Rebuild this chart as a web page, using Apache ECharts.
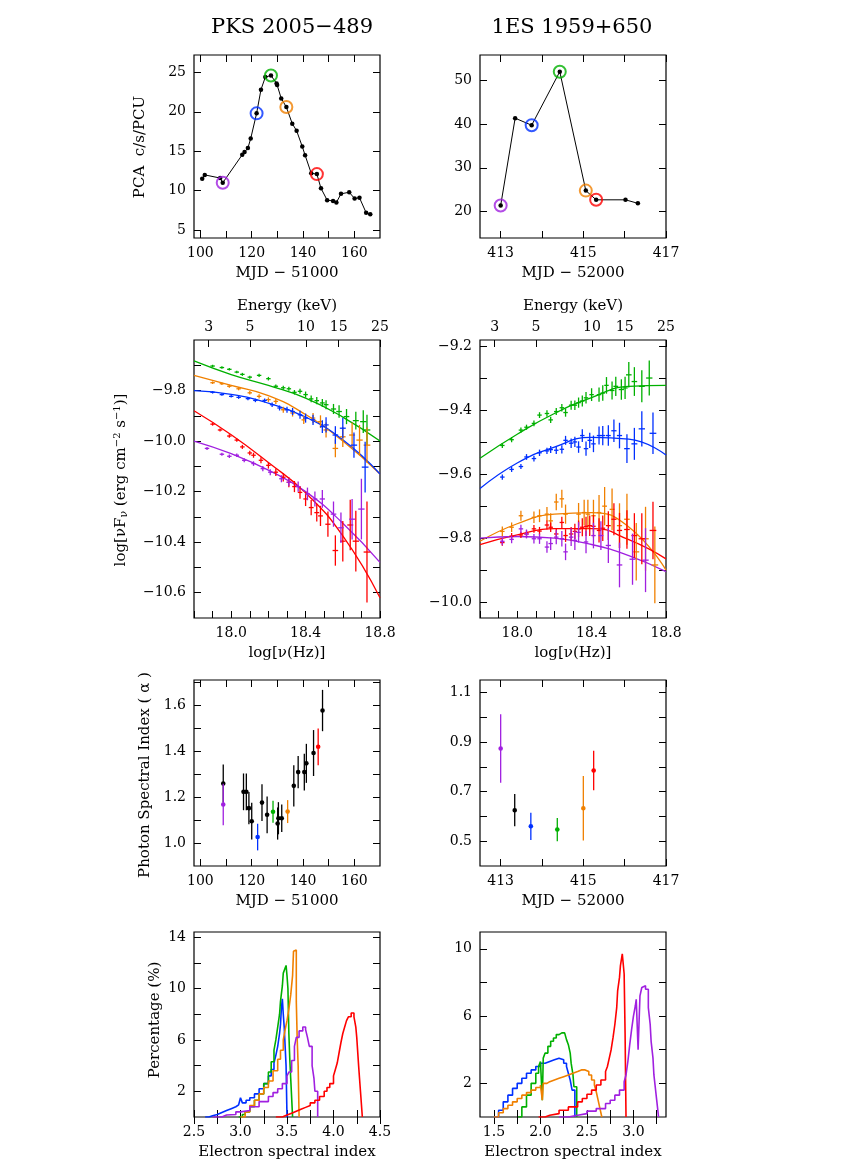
<!DOCTYPE html>
<html><head><meta charset="utf-8">
<script src="https://cdn.jsdelivr.net/npm/echarts@6/dist/echarts.min.js"></script>
<style>html,body{margin:0;background:#fff}#c{width:859px;height:1172px}</style>
</head><body><div id="c"></div>
<script>
// ---------- DATA ----------
const titles = ['PKS 2005\u2212489', '1ES 1959+650'];
const colors = {purple:'#a020e0', blue:'#0030ff', green:'#00b000', orange:'#f08000', red:'#ff0000', black:'#000'};

// Row 1 light curves [MJD offset, count rate]
const lcLeft = [[100.7,11.5],[101.7,12.0],[107.7,11.6],[108.7,11.0],[116.3,14.55],[117.2,14.9],[118.5,15.4],[119.6,16.6],[121.9,19.8],[123.6,22.8],[125.3,24.4],[127.5,24.6],[129.7,23.6],[129.9,23.4],[131.5,21.7],[133.5,20.6],[135.8,18.5],[137.5,17.6],[139.7,15.6],[140.8,14.5],[143.2,12.2],[145.4,12.1],[147.0,10.3],[149.4,8.8],[151.7,8.7],[153.0,8.5],[154.8,9.6],[158.0,9.8],[160.1,9.0],[162.0,9.1],[164.6,7.2],[166.2,7.0]];
const lcLeftMarks = {purple:[108.7,11.0], blue:[121.9,19.8], green:[127.5,24.6], orange:[133.5,20.6], red:[145.4,12.1]};
const lcRight = [[413.0,21.4],[413.35,41.3],[413.75,39.7],[414.43,51.9],[415.06,24.8],[415.31,22.7],[416.02,22.7],[416.32,21.9]];
const lcRightMarks = {purple:[413.0,21.4], blue:[413.75,39.7], green:[414.43,51.9], orange:[415.06,24.8], red:[415.31,22.7]};

// Row 2 spectra: points [log nu, log nuFnu, xerr, yerr]
const specL = {
 green:[[17.90,-9.703,.012,.005],[17.95,-9.709,.012,.005],[17.99,-9.716,.012,.005],[18.03,-9.727,.012,.005],[18.06,-9.736,.012,.006],[18.10,-9.747,.012,.006],[18.15,-9.740,.012,.006],[18.20,-9.753,.012,.007],[18.24,-9.783,.012,.007],[18.28,-9.789,.012,.008],[18.31,-9.793,.012,.008],[18.34,-9.807,.012,.009],[18.37,-9.803,.012,.010],[18.40,-9.816,.012,.012],[18.43,-9.833,.012,.013],[18.46,-9.840,.012,.014],[18.49,-9.849,.013,.016],[18.51,-9.856,.013,.018],[18.55,-9.873,.014,.02],[18.58,-9.883,.015,.025],[18.62,-9.903,.015,.03],[18.67,-9.919,.016,.035],[18.71,-9.923,.017,.045],[18.73,-9.956,.018,.06]],
 orange:[[17.90,-9.769,.012,.005],[17.95,-9.773,.012,.005],[17.99,-9.783,.012,.006],[18.04,-9.793,.012,.006],[18.10,-9.809,.012,.007],[18.15,-9.823,.012,.008],[18.20,-9.836,.012,.009],[18.24,-9.843,.012,.01],[18.28,-9.876,.012,.012],[18.33,-9.889,.012,.014],[18.39,-9.916,.012,.016],[18.44,-9.909,.012,.02],[18.48,-9.923,.013,.025],[18.51,-9.956,.014,.03],[18.56,-10.029,.015,.035],[18.60,-9.983,.015,.04],[18.65,-9.976,.016,.05],[18.69,-9.996,.017,.06],[18.73,-10.016,.018,.07]],
 blue:[[17.90,-9.807,.012,.005],[17.95,-9.816,.012,.005],[18.00,-9.823,.012,.005],[18.04,-9.827,.012,.006],[18.09,-9.832,.012,.006],[18.13,-9.839,.012,.007],[18.18,-9.839,.012,.008],[18.22,-9.856,.012,.009],[18.26,-9.869,.012,.01],[18.30,-9.876,.012,.012],[18.33,-9.883,.012,.014],[18.37,-9.896,.012,.016],[18.40,-9.909,.012,.018],[18.44,-9.916,.012,.02],[18.49,-9.943,.013,.025],[18.51,-9.936,.014,.03],[18.56,-9.976,.015,.035],[18.60,-9.949,.016,.04],[18.66,-10.016,.017,.05],[18.72,-10.103,.018,.1]],
 red:[[17.90,-9.933,.012,.006],[17.94,-9.956,.012,.006],[17.99,-9.980,.012,.007],[18.03,-9.996,.012,.007],[18.06,-10.023,.012,.008],[18.10,-10.047,.012,.009],[18.12,-10.056,.012,.01],[18.16,-10.076,.012,.012],[18.20,-10.096,.012,.013],[18.24,-10.123,.012,.015],[18.28,-10.143,.012,.017],[18.31,-10.163,.012,.02],[18.34,-10.180,.012,.022],[18.37,-10.203,.012,.025],[18.40,-10.229,.012,.028],[18.43,-10.263,.013,.03],[18.46,-10.283,.013,.035],[18.48,-10.296,.013,.04],[18.52,-10.329,.014,.05],[18.56,-10.433,.015,.06],[18.60,-10.396,.015,.08],[18.64,-10.332,.016,.1],[18.67,-10.396,.017,.12],[18.73,-10.439,.018,.2]],
 purple:[[17.87,-10.029,.012,.006],[17.95,-10.052,.012,.006],[17.99,-10.060,.012,.007],[18.03,-10.056,.012,.007],[18.07,-10.076,.012,.008],[18.12,-10.089,.012,.009],[18.17,-10.109,.012,.01],[18.21,-10.123,.012,.012],[18.27,-10.149,.012,.014],[18.31,-10.163,.012,.016],[18.36,-10.180,.012,.02],[18.41,-10.209,.013,.025],[18.45,-10.229,.013,.03],[18.49,-10.229,.014,.035],[18.55,-10.289,.015,.05],[18.59,-10.343,.015,.06],[18.65,-10.309,.016,.08],[18.70,-10.269,.017,.12]]
};
const specR = {
 green:[[17.92,-9.510,.012,.008],[17.97,-9.492,.012,.008],[18.02,-9.462,.012,.008],[18.05,-9.453,.012,.008],[18.09,-9.441,.012,.009],[18.12,-9.415,.012,.009],[18.16,-9.410,.012,.01],[18.18,-9.430,.012,.01],[18.21,-9.404,.012,.011],[18.24,-9.392,.012,.012],[18.26,-9.407,.012,.013],[18.29,-9.384,.012,.014],[18.31,-9.384,.012,.015],[18.33,-9.376,.012,.016],[18.35,-9.371,.012,.017],[18.37,-9.361,.012,.018],[18.40,-9.351,.012,.02],[18.44,-9.351,.012,.022],[18.46,-9.346,.012,.024],[18.48,-9.322,.012,.026],[18.51,-9.338,.013,.028],[18.53,-9.325,.013,.03],[18.56,-9.335,.014,.032],[18.58,-9.330,.014,.035],[18.60,-9.289,.015,.04],[18.63,-9.310,.015,.045],[18.67,-9.325,.016,.05],[18.71,-9.299,.017,.055]],
 blue:[[17.92,-9.609,.012,.008],[17.97,-9.585,.012,.008],[18.02,-9.576,.012,.008],[18.05,-9.546,.012,.009],[18.09,-9.551,.012,.009],[18.12,-9.533,.012,.01],[18.16,-9.527,.012,.01],[18.18,-9.523,.012,.011],[18.21,-9.525,.012,.012],[18.24,-9.522,.012,.013],[18.26,-9.494,.012,.014],[18.29,-9.503,.012,.015],[18.31,-9.499,.012,.016],[18.33,-9.515,.012,.018],[18.35,-9.479,.012,.02],[18.37,-9.520,.012,.022],[18.39,-9.494,.012,.024],[18.41,-9.505,.012,.026],[18.44,-9.479,.012,.028],[18.46,-9.479,.013,.03],[18.49,-9.479,.013,.032],[18.52,-9.464,.014,.035],[18.55,-9.479,.014,.04],[18.59,-9.520,.015,.045],[18.63,-9.505,.016,.05],[18.67,-9.458,.017,.055],[18.73,-9.472,.018,.065]],
 orange:[[17.92,-9.779,.012,.015],[17.97,-9.766,.012,.015],[18.02,-9.730,.012,.016],[18.09,-9.735,.012,.018],[18.12,-9.730,.012,.02],[18.16,-9.725,.012,.022],[18.18,-9.746,.012,.024],[18.21,-9.687,.012,.026],[18.24,-9.677,.012,.028],[18.26,-9.725,.012,.03],[18.33,-9.725,.012,.035],[18.36,-9.720,.012,.04],[18.38,-9.725,.012,.045],[18.41,-9.730,.012,.05],[18.44,-9.720,.012,.055],[18.47,-9.700,.013,.06],[18.51,-9.710,.013,.065],[18.55,-9.761,.014,.07],[18.59,-9.741,.015,.08],[18.64,-9.843,.016,.09],[18.69,-9.802,.017,.1],[18.74,-9.884,.018,.12]],
 red:[[17.92,-9.814,.012,.01],[17.97,-9.794,.012,.01],[18.02,-9.790,.012,.01],[18.05,-9.787,.012,.011],[18.09,-9.771,.012,.012],[18.12,-9.778,.012,.013],[18.16,-9.759,.012,.014],[18.18,-9.766,.012,.015],[18.21,-9.787,.012,.016],[18.24,-9.751,.012,.018],[18.26,-9.792,.012,.02],[18.29,-9.787,.012,.022],[18.31,-9.779,.012,.024],[18.33,-9.771,.012,.026],[18.35,-9.766,.012,.028],[18.37,-9.763,.012,.03],[18.39,-9.761,.012,.032],[18.41,-9.763,.012,.035],[18.44,-9.776,.012,.038],[18.46,-9.769,.013,.04],[18.49,-9.761,.013,.045],[18.52,-9.741,.014,.05],[18.55,-9.776,.014,.055],[18.59,-9.773,.015,.06],[18.63,-9.792,.016,.07],[18.67,-9.802,.017,.08],[18.73,-9.776,.018,.09]],
 purple:[[17.92,-9.810,.012,.012],[17.97,-9.804,.012,.012],[18.02,-9.771,.012,.013],[18.05,-9.787,.012,.014],[18.09,-9.802,.012,.015],[18.12,-9.802,.012,.016],[18.16,-9.828,.012,.018],[18.18,-9.817,.012,.02],[18.21,-9.797,.012,.022],[18.24,-9.802,.012,.024],[18.26,-9.843,.012,.026],[18.29,-9.797,.012,.028],[18.31,-9.807,.012,.03],[18.33,-9.782,.012,.032],[18.37,-9.812,.012,.035],[18.41,-9.792,.012,.04],[18.45,-9.792,.013,.045],[18.49,-9.823,.014,.055],[18.55,-9.884,.015,.07],[18.62,-9.866,.016,.08],[18.69,-9.869,.017,.1]]
};
// model curves [log nu, log nuFnu]
const curvL = {
 green:[[17.8,-9.683],[18.0,-9.737],[18.2,-9.78],[18.4,-9.83],[18.6,-9.905],[18.8,-10.0]],
 orange:[[17.8,-9.74],[18.0,-9.78],[18.2,-9.82],[18.4,-9.895],[18.6,-10.0],[18.8,-10.13]],
 blue:[[17.8,-9.80],[18.0,-9.815],[18.2,-9.85],[18.4,-9.905],[18.6,-9.995],[18.8,-10.13]],
 red:[[17.8,-9.88],[18.0,-9.975],[18.2,-10.085],[18.4,-10.205],[18.6,-10.375],[18.8,-10.62]],
 purple:[[17.8,-10.0],[18.0,-10.05],[18.2,-10.115],[18.4,-10.2],[18.6,-10.325],[18.8,-10.48]]
};
const curvR = {
 green:[[17.8,-9.55],[18.0,-9.475],[18.2,-9.41],[18.4,-9.36],[18.6,-9.325],[18.8,-9.322]],
 blue:[[17.8,-9.645],[18.0,-9.565],[18.2,-9.515],[18.4,-9.485],[18.6,-9.49],[18.8,-9.54]],
 orange:[[17.8,-9.81],[18.0,-9.755],[18.2,-9.725],[18.4,-9.72],[18.6,-9.765],[18.8,-9.9]],
 red:[[17.8,-9.82],[18.0,-9.79],[18.2,-9.77],[18.4,-9.77],[18.6,-9.805],[18.8,-9.865]],
 purple:[[17.8,-9.80],[18.0,-9.795],[18.2,-9.80],[18.4,-9.82],[18.6,-9.855],[18.8,-9.905]]
};
const energyTicks = [3,5,10,15,25];
const keVoffset = 17.402;

// Row 3 photon index [MJD offset, alpha, err, colour]
const alphaL = [[108.9,1.259,.083,'black'],[108.9,1.168,.09,'purple'],[116.8,1.223,.08,'black'],[117.9,1.223,.08,'black'],[118.9,1.152,.07,'black'],[120.0,1.095,.08,'black'],[122.3,1.026,.058,'blue'],[124.0,1.176,.08,'black'],[126.0,1.123,.08,'black'],[128.3,1.136,.048,'green'],[130.1,1.085,.07,'black'],[130.4,1.108,.07,'black'],[131.7,1.108,.06,'black'],[134.0,1.137,.05,'orange'],[136.4,1.249,.09,'black'],[138.1,1.309,.07,'black'],[140.5,1.309,.08,'black'],[141.3,1.347,.085,'black'],[144.1,1.392,.1,'black'],[145.9,1.419,.08,'red'],[147.6,1.577,.09,'black']];
const alphaR = [[413.0,0.874,.138,'purple'],[413.34,0.625,.065,'black'],[413.73,0.56,.055,'blue'],[414.37,0.547,.047,'green'],[415.0,0.633,.13,'orange'],[415.25,0.785,.08,'red']];

// Row 4 electron index distributions [index, percent]
const histL = {
 blue:[[2.62,0],[2.66,0.1],[2.7,0.2],[2.75,0.35],[2.8,0.5],[2.85,0.65],[2.9,0.8],[2.95,0.95],[2.98,1.1],[3.0,1.5],[3.02,1.1],[3.06,1.3],[3.1,1.5],[3.15,1.8],[3.2,2.2],[3.25,2.6],[3.3,3.2],[3.33,3.7],[3.36,4.2],[3.38,4.8],[3.4,5.5],[3.42,6.5],[3.43,7.2],[3.44,8.5],[3.45,9.2],[3.46,8.0],[3.47,7.0],[3.48,5.5],[3.49,4.0],[3.5,0]],
 green:[[2.98,0],[3.02,0.2],[3.05,0.4],[3.1,0.8],[3.15,1.3],[3.2,1.8],[3.25,2.6],[3.3,3.5],[3.33,4.3],[3.36,5.2],[3.38,6.0],[3.4,7.0],[3.42,8.0],[3.43,9.0],[3.45,10.2],[3.46,11.2],[3.48,11.6],[3.49,11.8],[3.5,11.0],[3.51,10.0],[3.52,6.5],[3.53,4.5],[3.54,3.0],[3.56,0]],
 orange:[[3.0,0],[3.05,0.4],[3.1,0.9],[3.15,1.3],[3.2,1.8],[3.25,2.3],[3.3,2.8],[3.35,3.6],[3.4,4.5],[3.43,5.2],[3.46,6.0],[3.48,6.8],[3.5,7.5],[3.52,8.4],[3.54,9.5],[3.56,11.0],[3.57,12.9],[3.59,13.0],[3.6,9.0],[3.61,6.0],[3.62,4.0],[3.63,0]],
 purple:[[2.7,0],[2.8,0.15],[2.85,0.2],[2.95,0.4],[3.0,0.5],[3.1,0.8],[3.2,1.2],[3.3,1.6],[3.35,1.9],[3.4,2.2],[3.45,2.6],[3.5,3.2],[3.52,3.5],[3.55,4.4],[3.58,5.5],[3.6,6.2],[3.63,6.7],[3.67,7.0],[3.7,6.8],[3.72,6.2],[3.74,5.5],[3.77,4.0],[3.79,3.0],[3.8,2.0],[3.83,0]],
 red:[[3.38,0],[3.45,0.15],[3.5,0.3],[3.55,0.45],[3.6,0.6],[3.65,0.75],[3.7,0.9],[3.75,1.1],[3.8,1.3],[3.85,1.6],[3.9,2.0],[3.93,2.3],[3.96,2.6],[4.0,3.2],[4.02,3.7],[4.04,4.2],[4.06,5.0],[4.08,5.8],[4.1,6.5],[4.12,7.0],[4.14,7.5],[4.16,7.8],[4.19,8.1],[4.22,7.8],[4.24,7.0],[4.25,6.2],[4.27,4.0],[4.28,3.0],[4.29,2.0],[4.31,0]]
};
const histR = {
 blue:[[1.5,0],[1.55,0.4],[1.6,0.9],[1.65,1.3],[1.7,1.7],[1.75,2.0],[1.8,2.3],[1.85,2.6],[1.9,2.8],[1.95,3.0],[2.0,3.2],[2.05,3.3],[2.1,3.4],[2.15,3.5],[2.2,3.4],[2.25,3.2],[2.28,3.0],[2.3,2.6],[2.32,2.2],[2.34,1.6],[2.37,0]],
 green:[[1.76,0],[1.8,0.6],[1.85,1.3],[1.9,2.0],[1.95,2.6],[1.98,3.0],[2.0,3.3],[2.02,1.0],[2.03,3.5],[2.05,3.8],[2.08,4.2],[2.11,4.5],[2.14,4.7],[2.17,4.9],[2.2,5.0],[2.23,5.0],[2.26,4.9],[2.28,4.6],[2.3,4.3],[2.32,3.8],[2.33,3.2],[2.35,2.5],[2.36,1.8],[2.39,0]],
 orange:[[1.5,0],[1.55,0.25],[1.6,0.5],[1.65,0.7],[1.7,0.9],[1.75,1.1],[1.8,1.3],[1.85,1.45],[1.9,1.6],[1.95,1.75],[2.0,1.9],[2.02,1.0],[2.03,2.0],[2.07,2.1],[2.1,2.2],[2.15,2.3],[2.2,2.4],[2.25,2.5],[2.3,2.6],[2.35,2.7],[2.4,2.8],[2.44,2.8],[2.48,2.7],[2.52,2.5],[2.55,2.2],[2.58,1.9],[2.6,1.5],[2.62,1.0],[2.64,0.5],[2.66,0]],
 red:[[1.98,0],[2.05,0.1],[2.1,0.2],[2.2,0.4],[2.3,0.6],[2.4,0.9],[2.45,1.1],[2.5,1.35],[2.55,1.6],[2.6,1.9],[2.65,2.2],[2.7,2.7],[2.72,3.0],[2.74,3.5],[2.76,4.0],[2.78,4.7],[2.8,5.5],[2.82,6.5],[2.83,7.5],[2.85,8.3],[2.86,9.0],[2.88,9.7],[2.9,8.5],[2.91,5.0],[2.92,0]],
 purple:[[2.2,0],[2.3,0.1],[2.4,0.2],[2.5,0.35],[2.6,0.5],[2.7,0.8],[2.75,1.0],[2.8,1.3],[2.85,1.6],[2.9,2.1],[2.92,2.5],[2.94,3.3],[2.96,4.3],[2.98,5.2],[3.0,6.0],[3.02,6.6],[3.03,7.0],[3.05,4.0],[3.07,7.2],[3.09,7.7],[3.1,7.8],[3.13,7.6],[3.16,6.5],[3.18,5.5],[3.19,4.5],[3.21,3.5],[3.22,2.5],[3.24,1.5],[3.25,1.0],[3.27,0]]
};

// ---------- LAYOUT ----------
const FONT = 'DejaVu Serif';
const colX = [194, 480], W = 186;
const rows = [{top:55,h:183},{top:340,h:278},{top:680,h:186},{top:932,h:185}];
const grids = [], xAxes = [], yAxes = [], series = [];
const num = v => (typeof v === 'object' && v !== null) ? v.value : v;

function panel(r, c, xr, yr, xName, opts={}) {
  const gi = grids.length;
  grids.push({left:colX[c], top:rows[r].top, width:W, height:rows[r].h, show:true, borderColor:'#000', borderWidth:1.2, containLabel:false});
  const xa = xAxes.length, ya = yAxes.length;
  const lab = {fontFamily:FONT, fontSize:14, color:'#000', margin:8};
  const tick = (vals,len)=>({show:true, inside:true, length:len||7, lineStyle:{color:'#000', width:1}, customValues:vals});
  const xf = opts.xfmt, yf = opts.yfmt;
  xAxes.push({gridIndex:gi, type:'value', min:xr[0], max:xr[1], position:'bottom',
    axisLine:{show:false}, splitLine:{show:false}, axisTick:tick(xr[2]),
    axisLabel:Object.assign({}, lab, {customValues:xr[3], formatter:v=>xf(num(v))}),
    name:xName, nameLocation:'middle', nameGap:28, nameTextStyle:{fontFamily:FONT, fontSize:15, color:'#000'}});
  const top = opts.top;
  xAxes.push({gridIndex:gi, type:'value', min:xr[0], max:xr[1], position:'top',
    axisLine:{show:false}, splitLine:{show:false}, axisTick:tick(top?top.ticks:xr[2]),
    axisLabel: top ? Object.assign({}, lab, {customValues:top.ticks, formatter:v=>top.fmt(num(v)), margin:6}) : {show:false},
    name: top ? 'Energy (keV)' : '', nameLocation:'middle', nameGap:26, nameTextStyle:{fontFamily:FONT, fontSize:15, color:'#000'}});
  yAxes.push({gridIndex:gi, type:'value', min:yr[0], max:yr[1], position:'left',
    axisLine:{show:false}, splitLine:{show:false}, axisTick:tick(yr[2]),
    axisLabel:Object.assign({}, lab, {customValues:yr[3], formatter:v=>yf(num(v))})});
  yAxes.push({gridIndex:gi, type:'value', min:yr[0], max:yr[1], position:'right',
    axisLine:{show:false}, splitLine:{show:false}, axisTick:tick(yr[2]), axisLabel:{show:false}});
  return {x:xa, y:ya};
}

function errSeries(ax, data, color, withX, dot) {
  return {type:'custom', xAxisIndex:ax.x, yAxisIndex:ax.y, clip:true, z:3,
    data: data.map(p=>p.slice(0,4)),
    renderItem(params, api) {
      const x = api.value(0), y = api.value(1), xe = api.value(2), ye = api.value(3);
      const cn = data[params.dataIndex][4];
      const col = cn ? colors[cn] : color;
      const st = {stroke:col, lineWidth:1.3};
      const ch = [];
      const a = api.coord([x, y - ye]), b = api.coord([x, y + ye]);
      ch.push({type:'line', shape:{x1:a[0], y1:a[1], x2:b[0], y2:b[1]}, style:st});
      if (withX) {
        const c1 = api.coord([x - xe, y]), c2 = api.coord([x + xe, y]);
        ch.push({type:'line', shape:{x1:c1[0], y1:c1[1], x2:c2[0], y2:c2[1]}, style:st});
      }
      if (dot) { const p = api.coord([x, y]); ch.push({type:'circle', shape:{cx:p[0], cy:p[1], r:2.3}, style:{fill:col}}); }
      return {type:'group', children:ch};
    }};
}

const intF = v => String(Math.round(v));
const f1 = v => v.toFixed(1);
const negF = v => '\u2212' + Math.abs(v).toFixed(1);
const mjdL = [97.5,170,[100,110,120,130,140,150,160],[100,120,140,160]];
const mjdR = [412.5,417,[413,414,415,416,417],[413,415,417]];

// Row 1
const a1 = panel(0,0,mjdL,[4,27.2,[5,10,15,20,25],[5,10,15,20,25]],'MJD \u2212 51000',{xfmt:intF,yfmt:intF});
const a2 = panel(0,1,mjdR,[14,55.7,[20,30,40,50],[20,30,40,50]],'MJD \u2212 52000',{xfmt:intF,yfmt:intF});
[[a1,lcLeft,lcLeftMarks],[a2,lcRight,lcRightMarks]].forEach(([ax,d,m])=>{
  series.push({type:'line', xAxisIndex:ax.x, yAxisIndex:ax.y, data:d, symbol:'circle', symbolSize:4.5,
    itemStyle:{color:'#000'}, lineStyle:{color:'#000', width:1}, silent:true});
  Object.keys(m).forEach(k=>series.push({type:'scatter', xAxisIndex:ax.x, yAxisIndex:ax.y, data:[m[k]],
    symbol:'circle', symbolSize:12, itemStyle:{color:'transparent', borderColor:colors[k], borderWidth:2}, z:4}));
});

// Row 2
const eTicks = energyTicks.map(e=>keVoffset+Math.log10(e));
const topE = {ticks:eTicks, fmt:v=>String(Math.round(Math.pow(10, v-keVoffset)))};
const nuT = [17.8,17.9,18.0,18.1,18.2,18.3,18.4,18.5,18.6,18.7,18.8];
const nuX = [17.8,18.8,nuT,[18.0,18.4,18.8]];
const a3 = panel(1,0,nuX,[-10.7,-9.6,[-10.6,-10.5,-10.4,-10.3,-10.2,-10.1,-10.0,-9.9,-9.8,-9.7],[-10.6,-10.4,-10.2,-10.0,-9.8]],'log[\u03bd(Hz)]',{top:topE,xfmt:f1,yfmt:negF});
const a4 = panel(1,1,nuX,[-10.05,-9.18,[-10.0,-9.9,-9.8,-9.7,-9.6,-9.5,-9.4,-9.3,-9.2],[-10.0,-9.8,-9.6,-9.4,-9.2]],'log[\u03bd(Hz)]',{top:topE,xfmt:f1,yfmt:negF});
[[a3,specL,curvL],[a4,specR,curvR]].forEach(([ax,s,cv])=>{
  Object.keys(s).forEach(k=>{
    series.push(errSeries(ax, s[k], colors[k], true, false));
    series.push({type:'line', xAxisIndex:ax.x, yAxisIndex:ax.y, data:cv[k], smooth:0.5, showSymbol:false,
      lineStyle:{color:colors[k], width:1.3}, z:2, silent:true});
  });
});

// Row 3
const a5 = panel(2,0,mjdL,[0.9,1.71,[1.0,1.1,1.2,1.3,1.4,1.5,1.6,1.7],[1.0,1.2,1.4,1.6]],'MJD \u2212 51000',{xfmt:intF,yfmt:f1});
const a6 = panel(2,1,mjdR,[0.4,1.15,[0.5,0.6,0.7,0.8,0.9,1.0,1.1],[0.5,0.7,0.9,1.1]],'MJD \u2212 52000',{xfmt:intF,yfmt:f1});
[[a5,alphaL],[a6,alphaR]].forEach(([ax,d])=>{
  series.push(errSeries(ax, d.map(p=>[p[0],p[1],0,p[2],p[3]]), '#000', false, true));
});

// Row 4
const a7 = panel(3,0,[2.5,4.5,[2.5,2.75,3.0,3.25,3.5,3.75,4.0,4.25,4.5],[2.5,3.0,3.5,4.0,4.5]],[0,14.4,[2,4,6,8,10,12,14],[2,6,10,14]],'Electron spectral index',{xfmt:f1,yfmt:intF});
const a8 = panel(3,1,[1.35,3.35,[1.5,1.75,2.0,2.25,2.5,2.75,3.0,3.25],[1.5,2.0,2.5,3.0]],[0,11,[2,4,6,8,10],[2,6,10]],'Electron spectral index',{xfmt:f1,yfmt:intF});
[[a7,histL],[a8,histR]].forEach(([ax,h])=>{
  Object.keys(h).forEach(k=>series.push({type:'line', xAxisIndex:ax.x, yAxisIndex:ax.y, data:h[k], step:'end',
    showSymbol:false, lineStyle:{color:colors[k], width:1.6}, silent:true}));
});

const chart = echarts.init(document.getElementById('c'));
chart.setOption({
  animation:false, backgroundColor:'#fff',
  grid:grids, xAxis:xAxes, yAxis:yAxes, series:series,
  title:[
    {text:titles[0], left:287, top:12, textAlign:'center', textStyle:{fontFamily:FONT, fontSize:21, fontWeight:'normal', color:'#000'}},
    {text:titles[1], left:567, top:12, textAlign:'center', textStyle:{fontFamily:FONT, fontSize:21, fontWeight:'normal', color:'#000'}}
  ],
  graphic:[
    {type:'text', x:140, y:147, rotation:Math.PI/2, style:{text:'PCA  c/s/PCU', font:'15px "DejaVu Serif"', fill:'#000', align:'center', verticalAlign:'middle'}},
    {type:'text', x:121, y:480, rotation:Math.PI/2, style:{
      text:'log[\u03bdF{s|\u03bd} (erg cm{p|\u22122} s{p|\u22121})]', font:'15px "DejaVu Serif"', fill:'#000', align:'center', verticalAlign:'middle',
      rich:{s:{fontSize:11, fontFamily:FONT, verticalAlign:'bottom', padding:[6,0,0,0]}, p:{fontSize:10, fontFamily:FONT, padding:[0,0,8,0]}}}},
    {type:'text', x:145, y:775, rotation:Math.PI/2, style:{text:'Photon Spectral Index ( \u03b1 )', font:'15px "DejaVu Serif"', fill:'#000', align:'center', verticalAlign:'middle'}},
    {type:'text', x:155, y:1020, rotation:Math.PI/2, style:{text:'Percentage (%)', font:'15px "DejaVu Serif"', fill:'#000', align:'center', verticalAlign:'middle'}}
  ]
});
</script></body></html>
